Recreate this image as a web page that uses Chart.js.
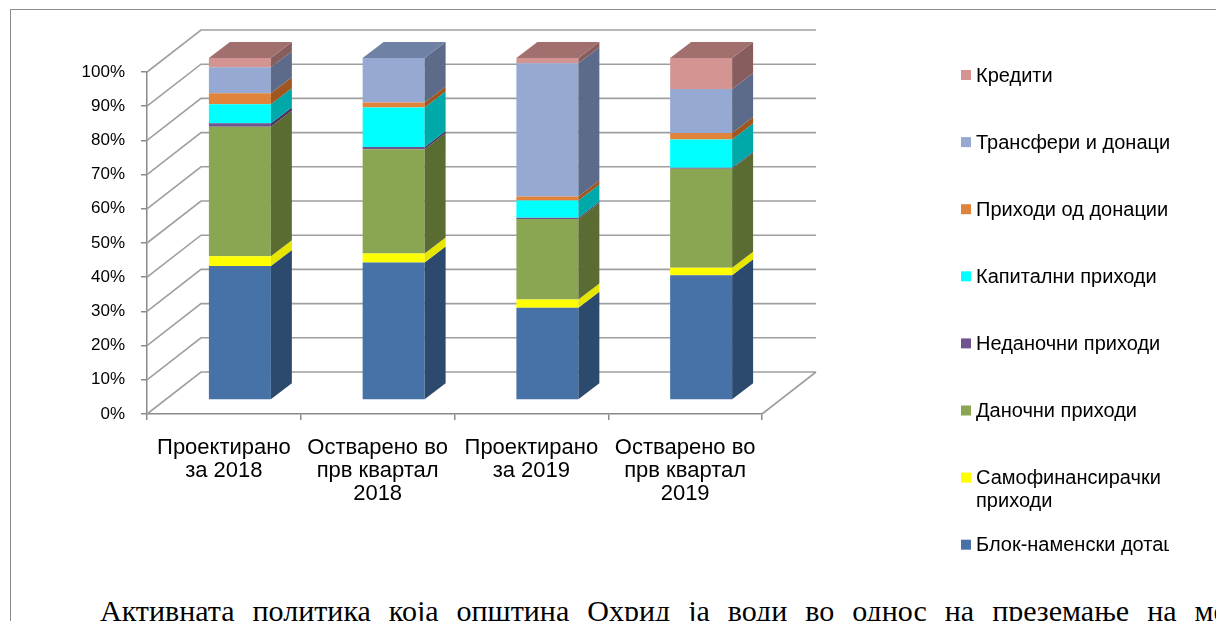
<!DOCTYPE html>
<html>
<head>
<meta charset="utf-8">
<script src="https://cdn.jsdelivr.net/npm/chart.js@4.4.1/dist/chart.umd.min.js"></script>
<style>
  body { margin: 0; background: #fff; width: 1216px; height: 621px; overflow: hidden; position: relative; }
  #frame { position: absolute; left: 10px; top: 9px; width: 1400px; height: 800px; border: 1.5px solid #8c8c8c; }
  #note { position: absolute; left: 100px; top: 594px; font: 30px "Liberation Serif", "Times New Roman", serif; word-spacing: 10.5px; white-space: nowrap; color: #000; }
  #chart { position: absolute; left: 0; top: 0; }
</style>
</head>
<body>
<div id="frame"></div>
<div id="note">Активната политика која општина Охрид ја води во однос на преземање на мерки</div>
<canvas id="chart" width="1216" height="621"></canvas>
<script>
// categories (x axis)
const categories = [
  ['Проектирано', 'за 2018'],
  ['Остварено во', 'прв квартал', '2018'],
  ['Проектирано', 'за 2019'],
  ['Остварено во', 'прв квартал', '2019']
];

// series, bottom of the stack first (percent of total)
const seriesNames = [
  'Блок-наменски дотации',
  'Самофинансирачки приходи',
  'Даночни приходи',
  'Неданочни приходи',
  'Капитални приходи',
  'Приходи од донации',
  'Трансфери и донации',
  'Кредити'
];
const blokDotacii    = [39.2, 40.2, 27.0, 36.5];
const samofinansiski = [2.8, 2.6, 2.4, 2.2];
const danocni        = [37.9, 30.5, 23.5, 28.9];
const nedanocni      = [1.0, 0.7, 0.4, 0.3];
const kapitalni      = [5.6, 11.5, 5.0, 8.3];
const odDonacii      = [3.2, 1.5, 1.2, 1.9];
const transferi      = [7.6, 13.0, 39.0, 12.8];
const krediti        = [2.7, 0.0, 1.5, 9.1];

// y axis ticks
const percentTicks = [0, 10, 20, 30, 40, 50, 60, 70, 80, 90, 100];

// legend text as Excel wrapped it
const legendLines = [
  ['Блок-наменски дотации'],
  ['Самофинансирачки', 'приходи'],
  ['Даночни приходи'],
  ['Неданочни приходи'],
  ['Капитални приходи'],
  ['Приходи од донации'],
  ['Трансфери и донации'],
  ['Кредити']
];

const seriesValues = [blokDotacii, samofinansiski, danocni, nedanocni, kapitalni, odDonacii, transferi, krediti];
const frontColors = ['#4672a8', '#ffff00', '#8ba652', '#6f5590', '#00ffff', '#e0843c', '#95a9d3', '#d39492'];
const sideColors  = ['#2c4a6e', '#e6e600', '#5a6c32', '#48385f', '#00a9a9', '#a0561f', '#5c6b89', '#875e5d'];
const topColors   = ['#3a5f8c', '#cccc00', '#718a42', '#5a4576', '#00d0d0', '#b8692c', '#7081a6', '#a1706e'];

// 3d offsets: bar front from axis plane, bar depth, back wall from axis plane
const depth = { fx: 16, fy: -14, bx: 21, by: -16, wx: 54, wy: -42 };
const font = '"Liberation Sans", Arial, sans-serif';

const walls = {
  id: 'walls',
  beforeDatasetsDraw(chart) {
    const { ctx, chartArea: a, scales: { y } } = chart;
    ctx.save();
    ctx.strokeStyle = '#9f9f9f';
    ctx.lineWidth = 1.6;
    ctx.beginPath();
    y.ticks.forEach(t => {
      const py = y.getPixelForValue(t.value);
      ctx.moveTo(a.left, py);
      ctx.lineTo(a.left + depth.wx, py + depth.wy);
      ctx.lineTo(a.right + depth.wx, py + depth.wy);
    });
    ctx.moveTo(a.right, a.bottom);
    ctx.lineTo(a.right + depth.wx, a.bottom + depth.wy);
    ctx.stroke();
    ctx.restore();
    // bars sit a bit deeper than the axis plane
    ctx.save();
    ctx.translate(depth.fx, depth.fy);
  },
  afterDatasetsDraw(chart) {
    const { ctx } = chart;
    const tops = [];
    chart.data.datasets.forEach((ds, i) => {
      chart.getDatasetMeta(i).data.forEach((bar, j) => {
        const { x, y, base, width } = bar.getProps(['x', 'y', 'base', 'width'], true);
        if (Math.abs(base - y) < 0.01) return;
        const r = x + width / 2;
        ctx.fillStyle = sideColors[i];
        ctx.beginPath();
        ctx.moveTo(r, y);
        ctx.lineTo(r + depth.bx, y + depth.by);
        ctx.lineTo(r + depth.bx, base + depth.by);
        ctx.lineTo(r, base);
        ctx.closePath();
        ctx.fill();
        tops[j] = { x, y, width, i };
      });
    });
    tops.forEach(t => {
      const l = t.x - t.width / 2, r = t.x + t.width / 2;
      ctx.fillStyle = topColors[t.i];
      ctx.beginPath();
      ctx.moveTo(l, t.y);
      ctx.lineTo(l + depth.bx, t.y + depth.by);
      ctx.lineTo(r + depth.bx, t.y + depth.by);
      ctx.lineTo(r, t.y);
      ctx.closePath();
      ctx.fill();
    });
    ctx.restore();
  }
};

const sideLegend = {
  id: 'sideLegend',
  afterDraw(chart) {
    const { ctx } = chart;
    ctx.save();
    ctx.beginPath();
    ctx.rect(950, 0, 219, 621);
    ctx.clip();
    ctx.font = '20px ' + font;
    ctx.textBaseline = 'middle';
    const n = chart.data.datasets.length;
    for (let k = 0; k < n; k++) {
      const i = n - 1 - k;
      const cy = 75 + k * 67.1;
      ctx.fillStyle = frontColors[i];
      ctx.fillRect(961, cy - 5, 10, 10);
      ctx.fillStyle = '#000';
      legendLines[i].forEach((line, m) => ctx.fillText(line, 976, cy + 1 + m * 23));
    }
    ctx.restore();
  }
};

new Chart(document.getElementById('chart'), {
  type: 'bar',
  data: {
    labels: categories,
    datasets: seriesNames.map((name, i) => ({
      label: name,
      data: seriesValues[i],
      backgroundColor: frontColors[i],
      borderWidth: 0,
      barPercentage: 0.403,
      categoryPercentage: 1,
      clip: false
    }))
  },
  options: {
    responsive: false,
    animation: false,
    events: [],
    layout: { padding: { left: 0, top: 72, right: 454, bottom: 77 } },
    plugins: { legend: { display: false }, tooltip: { enabled: false } },
    scales: {
      x: {
        stacked: true,
        afterFit: s => { s.height = 130; },
        border: { color: '#8a8a8a', width: 1.5 },
        grid: { drawOnChartArea: false, tickLength: 6, color: '#8a8a8a', lineWidth: 1.5 },
        ticks: { color: '#000', padding: 16, maxRotation: 0, autoSkip: false,
                 font: { family: font, size: 22, lineHeight: 1.05 } }
      },
      y: {
        stacked: true,
        min: 0,
        max: 100,
        afterFit: s => { s.width = 147; },
        afterBuildTicks: s => { s.ticks = percentTicks.map(v => ({ value: v })); },
        border: { color: '#8a8a8a', width: 1.5 },
        grid: { drawOnChartArea: false, tickLength: 6, color: '#8a8a8a', lineWidth: 1.5 },
        ticks: { color: '#000', padding: 16, callback: v => v + '%',
                 font: { family: font, size: 17 } }
      }
    }
  },
  plugins: [walls, sideLegend]
});
</script>
</body>
</html>
